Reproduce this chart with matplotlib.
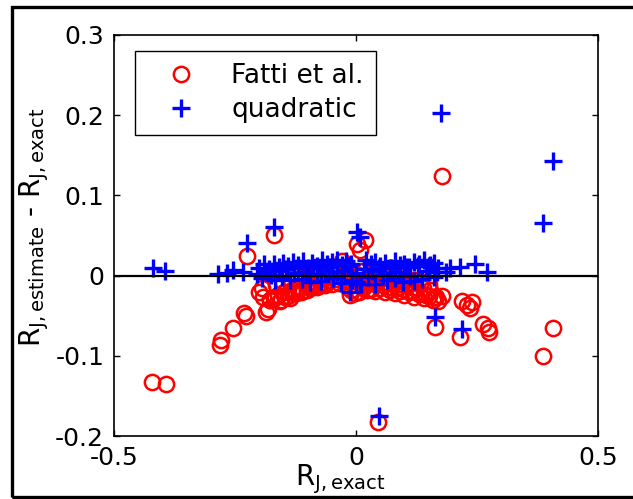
import matplotlib
matplotlib.use("Agg")
import matplotlib.pyplot as plt
from matplotlib.patches import Rectangle

plt.rcParams["font.family"] = ["DejaVu Sans"]
plt.rcParams["mathtext.default"] = "regular"

# Fatti et al. approximation error (red circles)
fatti_x = [
    -0.421, -0.393, -0.281, -0.279, -0.254, -0.231, -0.227, -0.182, -0.185,
    -0.192, -0.194, -0.225, -0.169, -0.178, -0.200, 0.002, 0.008, 0.019,
    -0.012, 0.045, 0.178, 0.407, 0.386, 0.163, 0.215, 0.273, 0.275, 0.229,
    0.240, 0.169, 0.235, 0.219, 0.178, 0.262,
    -0.170, -0.162, -0.155, -0.148, -0.140, -0.133, -0.125, -0.118, -0.110,
    -0.103, -0.095, -0.088, -0.080, -0.073, -0.065, -0.058, -0.050, -0.043,
    -0.035, -0.028, -0.020, -0.013, -0.005, 0.003, 0.010, 0.018, 0.025,
    0.033, 0.040, 0.048, 0.055, 0.063, 0.070, 0.078, 0.085, 0.093, 0.100,
    0.108, 0.115, 0.123, 0.130, 0.138, 0.145, 0.153, 0.160,
    -0.165, -0.150, -0.135, -0.120, -0.105, -0.090, -0.075, -0.060, -0.045,
    -0.030, -0.015, 0.000, 0.015, 0.030, 0.045, 0.060, 0.075, 0.090, 0.105,
    0.120, 0.135, 0.150,
    -0.178, -0.168, -0.158, -0.146, -0.136, -0.126, -0.114, -0.102, -0.090,
    -0.078, -0.066, -0.010, -0.002, 0.006, 0.014, 0.022, 0.030, 0.040,
    0.050, 0.060, 0.070, 0.080, 0.090, 0.100, 0.110, 0.120, 0.130, 0.140,
    0.150, 0.158, 0.166,
]
fatti_y = [
    -0.132, -0.135, -0.086, -0.080, -0.065, -0.046, -0.050, -0.042, -0.045,
    -0.026, -0.015, 0.024, 0.051, -0.030, -0.020, 0.040, 0.032, 0.045,
    -0.024, -0.183, 0.124, -0.065, -0.100, -0.064, -0.077, -0.065, -0.070, -0.036,
    -0.033, -0.032, -0.040, -0.032, -0.025, -0.060,
    -0.028, -0.024, -0.030, -0.020, -0.025, -0.018, -0.022, -0.015, -0.019,
    -0.012, -0.016, -0.010, -0.014, -0.008, -0.012, -0.006, -0.010, -0.004,
    -0.009, -0.003, -0.007, -0.002, -0.006, -0.001, -0.008, -0.004, -0.009,
    -0.005, -0.011, -0.006, -0.012, -0.008, -0.014, -0.009, -0.015, -0.011,
    -0.017, -0.012, -0.019, -0.014, -0.021, -0.016, -0.024, -0.018, -0.026,
    -0.012, -0.009, -0.006, -0.004, -0.002, 0.000, 0.002, -0.001, 0.003,
    0.018, 0.004, 0.002, 0.006, 0.001, -0.002, 0.000, -0.003, -0.001, -0.004,
    -0.006, -0.008, -0.010,
    -0.030, -0.027, -0.031, -0.026, -0.028, -0.022, -0.020, -0.018, -0.014,
    -0.013, -0.011, -0.018, -0.022, -0.020, -0.016, -0.018, -0.017, -0.019,
    -0.016, -0.020, -0.018, -0.022, -0.019, -0.024, -0.021, -0.026, -0.023,
    -0.028, -0.025, -0.030, -0.027,
]

# quadratic approximation error (blue pluses)
quad_x = [
    -0.419, -0.395, -0.285, -0.266, -0.254, -0.233, -0.225, -0.169, 0.002,
    0.008, -0.012, 0.048, 0.176, 0.407, 0.386, 0.163, 0.219, 0.215, 0.246,
    0.271, 0.185, 0.195,
    -0.205, -0.195, -0.185, -0.176, -0.168, -0.160, -0.152, -0.144, -0.136,
    -0.128, -0.120, -0.112, -0.104, -0.096, -0.088, -0.080, -0.072, -0.064,
    -0.056, -0.048, -0.040, -0.032, -0.024, -0.016, -0.008, 0.000, 0.008,
    0.016, 0.024, 0.032, 0.040, 0.048, 0.056, 0.064, 0.072, 0.080, 0.088,
    0.096, 0.104, 0.112, 0.120, 0.128, 0.136, 0.144, 0.152, 0.160, 0.168,
    -0.200, -0.190, -0.180, -0.170, -0.160, -0.150, -0.140, -0.130, -0.120,
    -0.110, -0.100, -0.090, -0.080, -0.070, -0.060, -0.050, -0.040, -0.030,
    -0.020, -0.010, 0.000, 0.010, 0.020, 0.030, 0.040, 0.050, 0.060, 0.070,
    0.080, 0.090, 0.100, 0.110, 0.120, 0.130, 0.140, 0.150, 0.160, 0.170,
]
quad_y = [
    0.010, 0.006, 0.002, 0.003, 0.007, 0.005, 0.041, 0.061, 0.055,
    0.048, -0.020, -0.175, 0.203, 0.143, 0.066, -0.051, -0.067, 0.011, 0.014,
    0.004, 0.005, 0.010,
    0.002, -0.003, 0.004, 0.001, -0.005, 0.006, -0.002, 0.008, -0.006,
    0.003, 0.010, -0.004, 0.005, -0.008, 0.009, 0.002, -0.007, 0.006,
    0.011, -0.003, 0.004, -0.009, 0.007, 0.012, -0.005, 0.003, -0.010,
    0.008, -0.002, 0.006, -0.011, 0.009, 0.001, -0.006, 0.010, -0.003,
    0.005, -0.008, 0.011, 0.000, -0.007, 0.012, -0.004, 0.006, 0.013,
    -0.002, 0.004,
    0.010, 0.014, 0.008, 0.015, 0.011, 0.016, 0.012, 0.017, 0.013,
    0.018, 0.009, 0.016, 0.012, 0.019, 0.014, 0.017, 0.020, 0.013,
    0.018, 0.015, -0.008, -0.011, 0.019, 0.014, 0.017, 0.012, 0.016, 0.010,
    0.018, 0.013, 0.015, 0.011, 0.017, 0.014, 0.019, 0.012, 0.016, 0.009,
]

x_ticks = [-0.5, 0, 0.5]
y_ticks = [-0.2, -0.1, 0, 0.1, 0.2, 0.3]

fig = plt.figure(figsize=(6.33, 4.99), dpi=100)
ax = fig.add_axes([0.180, 0.126, 0.765, 0.804])

ax.plot(fatti_x, fatti_y, "o", color="red", markerfacecolor="none",
        markersize=11, markeredgewidth=1.8, label="Fatti et al.")
ax.plot(quad_x, quad_y, "+", color="blue",
        markersize=12.5, markeredgewidth=2.4, label="quadratic")
ax.axhline(0, color="black", linewidth=1.6, zorder=5)

ax.set_xlim(-0.5, 0.5)
ax.set_ylim(-0.2, 0.3)
ax.set_xticks(x_ticks)
ax.set_xticklabels(["-0.5", "0", "0.5"])
ax.set_yticks(y_ticks)
ax.set_yticklabels(["-0.2", "-0.1", "0", "0.1", "0.2", "0.3"])
ax.tick_params(direction="in", length=4, width=1, top=True, right=True,
               labelsize=18, pad=7)
for s in ax.spines.values():
    s.set_linewidth(1.2)

ax.set_xlabel(r"$R_{J,exact}$", fontsize=20)
ax.xaxis.set_label_coords(0.467, -0.065, transform=ax.transAxes)
ax.xaxis.label.set_va("top")
ax.set_ylabel(r"$R_{J,estimate}$ - $R_{J,exact}$", fontsize=20)
ax.yaxis.set_label_coords(-0.13, 0.52)

leg = ax.legend(loc="upper left", bbox_to_anchor=(0.0434, 0.960),
                borderaxespad=0, fontsize=19, fancybox=False, framealpha=1,
                edgecolor="black", borderpad=0.45, handlelength=2.6,
                handletextpad=0.6, labelspacing=0.3)
leg.get_frame().set_linewidth(1.0)

fig.patches.append(Rectangle((0.019, 0.004), 1.2, 0.982, transform=fig.transFigure,
                             fill=False, edgecolor="black", linewidth=2.4))

fig.savefig("out.png", dpi=100)
